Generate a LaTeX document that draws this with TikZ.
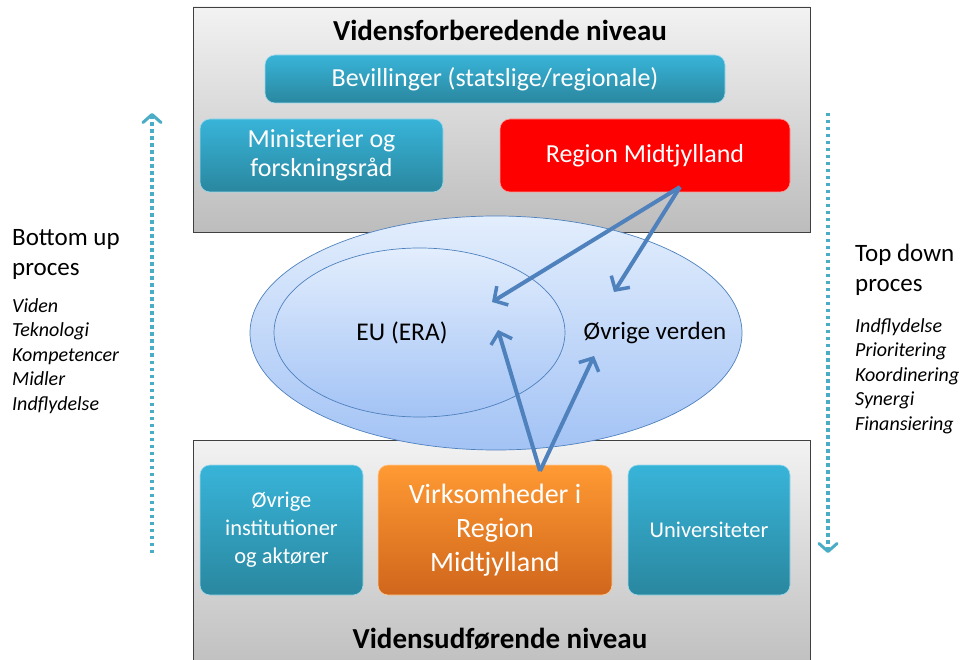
\documentclass[tikz,border=0pt]{standalone}
\usepackage{fontspec}
\setmainfont{Carlito}
\usetikzlibrary{arrows.meta,shapes.geometric}

\definecolor{tealtop}{HTML}{38B4D9}
\definecolor{tealbot}{HTML}{2A879F}
\definecolor{orangetop}{HTML}{FF9A33}
\definecolor{orangebot}{HTML}{D0661C}
\definecolor{linkblue}{HTML}{4F81BD}
\definecolor{skytop}{HTML}{E3EEFD}
\definecolor{skybot}{HTML}{A3C3F5}
\definecolor{dotteal}{HTML}{4BACC6}

\begin{document}
\begin{tikzpicture}[x=1pt,y=-1pt,
  levelbox/.style={draw=black!75, line width=0.8pt, top color=black!5, bottom color=black!26, minimum width=617, minimum height=225},
  leveltitle/.style={font=\bfseries\fontsize{29}{32}\selectfont},
  tealbox/.style={rounded corners=10pt, draw=tealtop!50!white, line width=0.6pt, top color=tealtop, bottom color=tealbot, text=white, align=center},
  redbox/.style={tealbox, draw=red!40!white, top color=red, bottom color=red},
  orangebox/.style={tealbox, draw=orangetop!50!white, top color=orangetop, bottom color=orangebot},
  worldshape/.style={ellipse, draw=linkblue, line width=0.7pt, top color=skytop, bottom color=skybot},
  link/.style={draw=linkblue, line width=4pt, -{Straight Barb[length=10pt,width=22pt,line width=3.5pt]}},
  process/.style={draw=dotteal, line width=3.5pt, dash pattern=on 3.5pt off 3.5pt, -{Straight Barb[length=8pt,width=18pt,line width=3pt,round]}},
  sidehead/.style={font=\fontsize{25}{30}\selectfont, align=left, inner sep=0pt, anchor=north west},
  sidelist/.style={font=\itshape\fontsize{20}{24.5}\selectfont, align=left, inner sep=0pt, anchor=north west}]
\useasboundingbox (0,0) rectangle (964,660);
\clip (0,0) rectangle (964,660);

% upper level
\node[levelbox] (prep) at (501.5,119.5) {};
\node[leveltitle] (preptitle) at (500,30) {Vidensforberedende niveau};
\node[tealbox, minimum width=460, minimum height=48, font=\fontsize{26}{28}\selectfont] (bev) at (495,79) {Bevillinger (statslige/regionale)};
\node[tealbox, minimum width=243, minimum height=73, font=\fontsize{26}{29}\selectfont] (min) at (321.5,155.5) {Ministerier og\\forskningsråd};
\node[redbox, minimum width=290, minimum height=73, font=\fontsize{26}{29}\selectfont] (region) at (645,155.5) {Region Midtjylland};

% lower level
\node[levelbox, minimum height=240] (exec) at (501.5,560) {};
\node[leveltitle] (exectitle) at (500,639) {Vidensudførende niveau};
\node[tealbox, minimum width=163, minimum height=130, font=\fontsize{22.5}{28}\selectfont] (other) at (281.5,530) {Øvrige\\institutioner\\og aktører};
\node[orangebox, minimum width=234, minimum height=130, font=\fontsize{28}{34}\selectfont] (firms) at (495,530) {Virksomheder i\\Region\\Midtjylland};
\node[tealbox, minimum width=162, minimum height=130, font=\fontsize{22.5}{28}\selectfont] (uni) at (709,530) {Universiteter};

% the world
\node[worldshape, minimum width=492, minimum height=234] (world) at (496,333) {};
\node[worldshape, minimum width=291, minimum height=169] (eu) at (419.5,332.5) {};
\node[font=\fontsize{25.5}{28}\selectfont] (eutext) at (402,333) {EU (ERA)};
\node[font=\fontsize{25}{28}\selectfont] (worldtext) at (655,333) {Øvrige verden};

% links
\coordinate (regionfoot) at (680,187);
\coordinate (firmshead) at (540,471);
\coordinate (eutop) at (492,302);
\coordinate (eubottom) at (498,330);
\coordinate (worldtop) at (614,292);
\coordinate (worldbottom) at (594,356);
\draw[link] (regionfoot) -- (eutop);
\draw[link] (regionfoot) -- (worldtop);
\draw[link] (firmshead) -- (eubottom);
\draw[link] (firmshead) -- (worldbottom);

% processes
\coordinate (upstart) at (152,553);
\coordinate (upend) at (152,113);
\coordinate (downstart) at (828,113);
\coordinate (downend) at (828,553);
\draw[process] (upstart) -- (upend);
\draw[process] (downstart) -- (downend);

\node[sidehead] (uphead) at (12,229) {Bottom up\\proces};
\node[sidelist] (uplist) at (12,298) {Viden\\Teknologi\\Kompetencer\\Midler\\Indflydelse};
\node[sidehead] (downhead) at (855,244) {Top down\\proces};
\node[sidelist] (downlist) at (855,318) {Indflydelse\\Prioritering\\Koordinering\\Synergi\\Finansiering};
\end{tikzpicture}
\end{document}
